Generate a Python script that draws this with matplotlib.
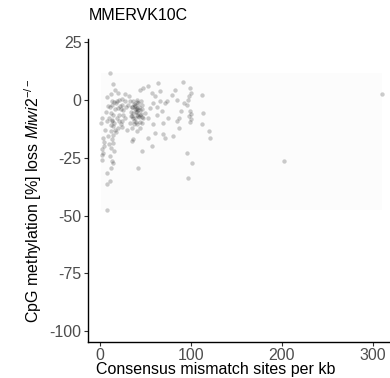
import matplotlib
matplotlib.use("Agg")
import matplotlib.pyplot as plt
from matplotlib.patches import Rectangle
import numpy as np

plt.rcParams["font.family"] = ["Liberation Sans", "DejaVu Sans"]
plt.rcParams["mathtext.fontset"] = "custom"
plt.rcParams["mathtext.rm"] = "Liberation Sans"
plt.rcParams["mathtext.it"] = "Liberation Sans:italic"

title = "MMERVK10C"
x_label = "Consensus mismatch sites per kb"
y_label = r"CpG methylation [%] loss $\mathit{Miwi2}^{-/-}$"
x_ticks = [0, 100, 200, 300]
y_ticks = [25, 0, -25, -50, -75, -100]

# mismatch sites per kb for each element copy
mismatch = [
    11, 15, 16.5, 8.5, 13, 15.5, 18.5, 21, 25, 27.5, 29, 24, 20, 12, 15, 10.5,
    13, 7.5, 15, 16.5, 12, 6, 3.5, 9.5, 13, 15, 2.5, 3.5, 11, 13, 15, 12,
    7.5, 11, 7.5, 8.5,
    14, 17, 11, 19, 14, 16, 12, 18, 14.5, 10, 5, 12.5, 3, 2, 4.5, 16,
    9, 6.5, 21.5, 23, 20, 17.5, 12.5, 20, 22, 26, 3, 1.5,
    23, 26, 24, 27.5, 31, 33, 36.5, 36, 40, 39, 40.5, 37, 41.5, 43.5, 44, 36,
    39, 43, 45.5, 45.5, 42.5, 34, 38, 41, 39.5, 42, 38.5, 40.5, 37.5, 44, 40, 33,
    35, 40.5, 44, 40.5, 29.5, 21.5, 25, 44, 47.5, 36.5, 35.5, 46, 42.5, 32, 28, 47,
    48, 50, 46,
    38.5, 42, 37, 44.5, 35, 46, 41, 38, 47, 34.5,
    53.5, 57, 61, 63.5, 66.5, 72, 73.5, 79, 83, 84.5, 92, 99.3, 100, 97.5, 95.8, 99.3,
    98.5, 100, 89.7, 87.3, 84.5, 112, 113, 112.3, 120, 121.5, 95.8, 101.3, 96.5, 53.5,
    61, 70, 72, 81, 87.5, 59, 53.5, 55.5, 58, 62.5, 68, 203, 310, 99, 100.5, 98,
    66, 75, 70, 93, 63, 57,
]

# methylation loss (%) in Miwi2 knockout for each element copy
meth_loss = [
    11.6, 6.9, 4.5, 1.2, -0.3, -0.9, -0.6, 0.1, 0.6, -0.3, -3.1, -2, -3.4, -5.6, -6.3, -7.7,
    -9.2, -9.2, -11.3, -12.8, -13.5, -12.8, -16.4, -15.7, -17.1, -18.5, -21.4, -22.8, -24.3, -26.4, -27.2, -29.3,
    -31.5, -35.1, -36.2, -47.7,
    -2, -4, -3, -8, -8.5, -10, -11, -14, -15, -19, -20, -21, -24, -26, -18, -22,
    -2.5, -5, -6.5, -10.5, -12, -1.5, 2.5, 3, -2.5, -4.5, -8, -10,
    -4.1, -6.3, -8.9, -7.7, -2, -0.6, -0.6, -3.1, -4.1, -2.5, -3.3, -5.7, -5.3, -3, -6.5, -6.8,
    -7.9, -7.5, -6, -0.3, -1.5, -5, -1.8, -6.5, -5, -4.5, -3.8, -1, -9, -9.5, -9.5, -9.9,
    -12, -10.6, -12, -13.5, -12.8, -9.2, -11.8, 4.5, 5.2, -17.1, -17.8, -22.1, -29.6, 1.5, 2.5, -2,
    -8, -5.6, -10,
    -2, -7, -8, -4.5, -3, -7.5, 0, -10.5, -4, -7,
    5.9, 3, 1.6, 7.3, -0.6, -1.3, -0.3, 2.3, 4.5, 0.1, 7.9, 5.2, 3, 0.1, -2, -4.9,
    -7, -8.4, -4.9, -7.7, -9.2, 2.3, -5.6, -10.6, -13.5, -16.4, -22.8, -27.2, -33.6, -16.4,
    -14.2, -14.9, -16.4, -15.7, -12.3, -10.6, -7.7, -3.4, -1.3, -3.1, -4.9, -26.3, 2.5, -9.5, -6, 1.5,
    4, -8, -10, -1.5, -6.5, -20,
]

x = np.array(mismatch, dtype=float)
y = np.array(meth_loss, dtype=float)

fig = plt.figure(figsize=(3.9, 3.78), dpi=100)
ax = fig.add_axes([0.2256, 0.096, 0.7744, 0.801])

# faint backdrop spanning the data extent
ax.add_patch(Rectangle((x.min(), y.min()), x.max() - x.min(), y.max() - y.min(),
                       facecolor="#fcfcfc", edgecolor="none", zorder=0))

ax.scatter(x, y, s=10, color="black", alpha=0.2, linewidths=0, zorder=2)

ax.set_xlim(-12.9, 319)
ax.set_ylim(-104.6, 26.4)
ax.set_xticks(x_ticks)
ax.set_yticks(y_ticks)
ax.set_xticklabels([str(t) for t in x_ticks])
ax.set_yticklabels([str(t) for t in y_ticks])

for side in ("top", "right"):
    ax.spines[side].set_visible(False)
for side in ("left", "bottom"):
    ax.spines[side].set_color("black")
    ax.spines[side].set_linewidth(1.0)

ax.tick_params(axis="both", colors="#333333", length=3.2, width=0.8,
               labelsize=11.5, labelcolor="#4d4d4d", pad=1.5)

fig.text(0.2256 + 0.003, 0.958, title, fontsize=11.5, ha="left", va="center", color="black")
fig.text(0.554, 0.022, x_label, fontsize=11.5, ha="center", va="center", color="black")
fig.text(0.085, 0.468, y_label, fontsize=11.5, ha="center", va="center",
         rotation=90, color="black")

fig.savefig("out.png", dpi=100)
